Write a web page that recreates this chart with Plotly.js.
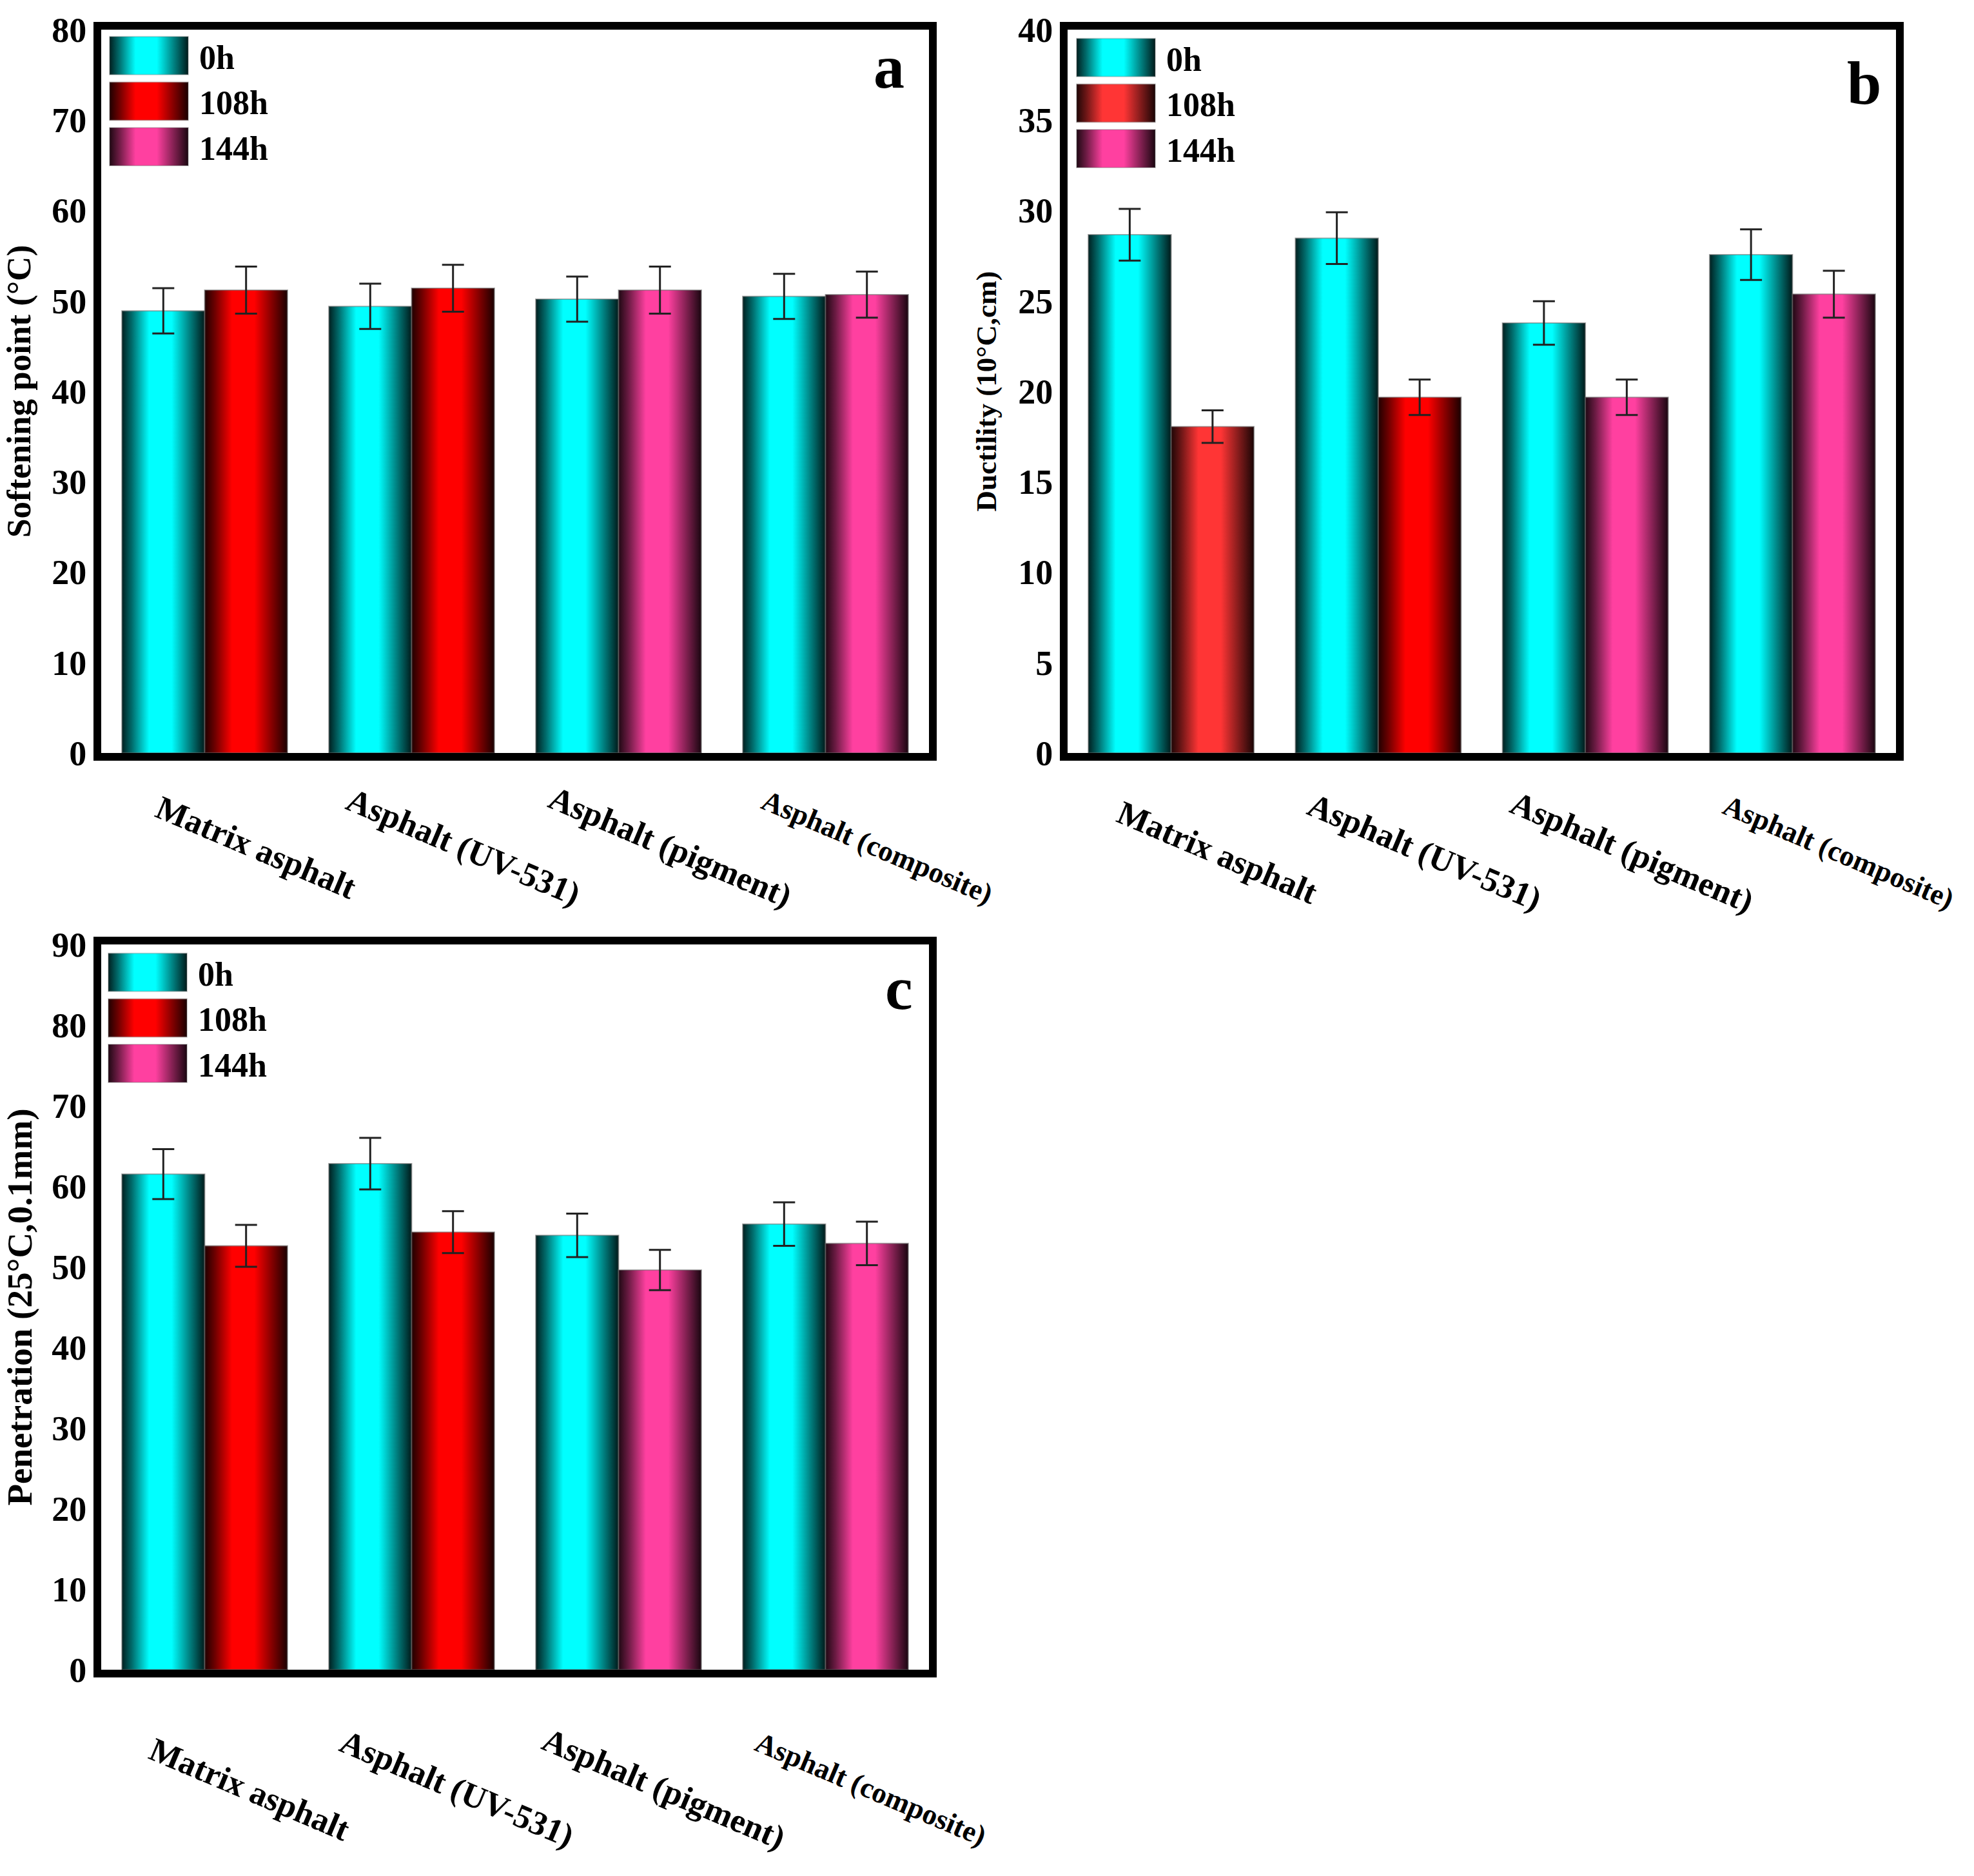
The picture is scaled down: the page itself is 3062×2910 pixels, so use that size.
<!DOCTYPE html>
<html><head><meta charset="utf-8">
<script src="https://cdn.plot.ly/plotly-3.0.1.min.js"></script>
<style>html,body{margin:0;padding:0;background:#fff}#chart{width:3062px;height:2910px}</style>
</head><body><div id="chart"></div>
<script>
// ---------------- data ----------------
const categories = ['Matrix asphalt', 'Asphalt (UV-531)', 'Asphalt (pigment)', 'Asphalt (composite)'];
const seriesNames = ['0h', '108h', '144h'];

// (a) Softening point (°C)
const soft0h      = [48.9, 49.4, 50.2, 50.5];
const soft0hErr   = [2.5, 2.5, 2.5, 2.5];
const soft108h    = [51.2, 51.4, null, null];
const soft108hErr = [2.6, 2.6, 0, 0];
const soft144h    = [null, null, 51.2, 50.7];
const soft144hErr = [0, 0, 2.6, 2.55];

// (b) Ductility (10°C, cm)
const duct0h      = [28.66, 28.47, 23.78, 27.56];
const duct0hErr   = [1.43, 1.43, 1.2, 1.4];
const duct108h    = [18.05, 19.67, null, null];
const duct108hErr = [0.9, 0.98, 0, 0];
const duct144h    = [null, null, 19.67, 25.37];
const duct144hErr = [0, 0, 0.98, 1.3];

// (c) Penetration (25°C, 0.1mm)
const pen0h       = [61.5, 62.8, 53.9, 55.3];
const pen0hErr    = [3.1, 3.2, 2.7, 2.7];
const pen108h     = [52.6, 54.3, null, null];
const pen108hErr  = [2.6, 2.6, 0, 0];
const pen144h     = [null, null, 49.6, 52.9];
const pen144hErr  = [0, 0, 2.5, 2.7];

const yTitles = ['Softening point (°C)', 'Ductility (10°C,cm)', 'Penetration (25°C,0.1mm)'];
const panelLetters = ['a', 'b', 'c'];

// ---------------- styles ----------------
const W = 3062, H = 2910;
const ML = 157, MR = 121, MT = 46, MB = 320;
const PW = W - ML - MR, PH = H - MT - MB;
const dx = px => (px - ML) / PW;
const dy = py => 1 - (py - MT) / PH;
const FONT = 'Liberation Serif, Times New Roman, serif';
const cCyan = '#00ffff', cRed = '#ff0000', cRedLight = '#ff3535', cPink = '#ff40a0';
const labelSizes = [52, 52, 52, 45];

function errOpts(arr) {
  return {type: 'data', array: arr, visible: true, color: '#222222', thickness: 3, width: 17};
}
function mkTrace(name, y, err, color, og, ax, lg) {
  return {
    type: 'bar', name: name, x: categories, y: y, error_y: errOpts(err),
    marker: {color: color, line: {color: 'rgba(110,110,110,0.55)', width: 2}},
    offsetgroup: og, xaxis: 'x' + ax, yaxis: 'y' + ax, legend: lg, showlegend: true,
    hoverinfo: 'skip'
  };
}

const data = [
  mkTrace(seriesNames[0], soft0h, soft0hErr, cCyan, '1', '', 'legend'),
  mkTrace(seriesNames[1], soft108h, soft108hErr, cRed, '2', '', 'legend'),
  mkTrace(seriesNames[2], soft144h, soft144hErr, cPink, '2', '', 'legend'),
  mkTrace(seriesNames[0], duct0h, duct0hErr, cCyan, '1', '2', 'legend2'),
  mkTrace(seriesNames[1], duct108h, duct108hErr, [cRedLight, cRed, cRed, cRed], '2', '2', 'legend2'),
  mkTrace(seriesNames[2], duct144h, duct144hErr, cPink, '2', '2', 'legend2'),
  mkTrace(seriesNames[0], pen0h, pen0hErr, cCyan, '1', '3', 'legend3'),
  mkTrace(seriesNames[1], pen108h, pen108hErr, cRed, '2', '3', 'legend3'),
  mkTrace(seriesNames[2], pen144h, pen144hErr, cPink, '2', '3', 'legend3')
];

const tickFont = {family: FONT, size: 54, color: '#000', weight: 'bold'};
function xAx(domain, anchor) {
  return {domain: domain, anchor: anchor, type: 'category', range: [-0.5, 3.5],
    showline: true, mirror: true, linewidth: 12, linecolor: '#000',
    showgrid: false, zeroline: false, ticks: '', showticklabels: false, fixedrange: true};
}
function yAx(domain, anchor, range, dtick, title, tsize) {
  return {domain: domain, anchor: anchor, range: range, dtick: dtick, tick0: 0,
    showline: true, mirror: true, linewidth: 12, linecolor: '#000',
    showgrid: false, zeroline: false, ticks: '', tickfont: tickFont,
    title: {text: title, font: {family: FONT, size: tsize, color: '#000', weight: 'bold'}},
    fixedrange: true};
}
function legendOpts(xpx, ypx) {
  return {x: dx(xpx), y: dy(ypx), xref: 'paper', yref: 'paper',
    xanchor: 'left', yanchor: 'top', bgcolor: 'rgba(0,0,0,0)', borderwidth: 0,
    itemwidth: 146, traceorder: 'normal', itemclick: false, itemdoubleclick: false,
    font: {family: FONT, size: 52, color: '#000', weight: 'bold'}};
}

const annotations = [];
const labelShift = [[80, 146], [72, 154], [70, 185]];
['', '2', '3'].forEach((ax, pi) => {
  categories.forEach((c, i) => {
    annotations.push({xref: 'x' + ax, yref: 'y' + ax + ' domain', x: c, y: 0,
      xanchor: 'center', yanchor: 'middle', xshift: labelShift[pi][0], yshift: -labelShift[pi][1],
      textangle: 23, showarrow: false, text: c,
      font: {family: FONT, size: labelSizes[i], color: '#000', weight: 'bold'}});
  });
});
const letterShift = [[-36, -57], [-21, -82], [-23, -68]];
['', '2', '3'].forEach((ax, pi) => {
  annotations.push({xref: 'x' + ax + ' domain', yref: 'y' + ax + ' domain', x: 1, y: 1,
    xanchor: 'right', yanchor: 'middle', xshift: letterShift[pi][0], yshift: letterShift[pi][1],
    showarrow: false, text: panelLetters[pi],
    font: {family: FONT, size: 96, color: '#000', weight: 'bold'}});
});

const layout = {
  width: W, height: H, paper_bgcolor: '#fff', plot_bgcolor: '#fff',
  margin: {l: ML, r: MR, t: MT, b: MB, autoexpand: false},
  barmode: 'group', bargap: 0.2, bargroupgap: 0,
  showlegend: true,
  xaxis: xAx([dx(157), dx(1441)], 'y'),
  yaxis: yAx([dy(1168), dy(46)], 'x', [0, 80], 10, yTitles[0], 53),
  xaxis2: xAx([dx(1656), dx(2941)], 'y2'),
  yaxis2: yAx([dy(1168), dy(46)], 'x2', [0, 40], 5, yTitles[1], 45),
  xaxis3: xAx([dx(157), dx(1441)], 'y3'),
  yaxis3: yAx([dy(2590), dy(1465)], 'x3', [0, 90], 10, yTitles[2], 55),
  legend: legendOpts(153, 46),
  legend2: legendOpts(1653, 49),
  legend3: legendOpts(151, 1468),
  annotations: annotations
};

function applyGradients(gd) {
  const NS = 'http://www.w3.org/2000/svg';
  const svg = gd.querySelector('svg.main-svg');
  let defs = svg.querySelector('defs');
  if (!defs) { defs = document.createElementNS(NS, 'defs'); svg.insertBefore(defs, svg.firstChild); }
  const made = {};
  const stops = [[0, 0.12], [0.12, 0.42], [0.33, 1], [0.6, 1], [0.82, 0.5], [1, 0.1]];
  function gradFor(fill) {
    const m = (fill || '').match(/rgba?\(([^)]+)\)/);
    if (!m) return null;
    const v = m[1].split(',').map(s => parseFloat(s));
    const id = 'bargrad_' + v[0] + '_' + v[1] + '_' + v[2];
    if (!made[id]) {
      const lg = document.createElementNS(NS, 'linearGradient');
      lg.setAttribute('id', id);
      lg.setAttribute('x1', '0'); lg.setAttribute('y1', '0');
      lg.setAttribute('x2', '1'); lg.setAttribute('y2', '0');
      stops.forEach(s => {
        const st = document.createElementNS(NS, 'stop');
        st.setAttribute('offset', s[0]);
        st.setAttribute('stop-color', 'rgb(' + Math.round(v[0] * s[1]) + ',' + Math.round(v[1] * s[1]) + ',' + Math.round(v[2] * s[1]) + ')');
        lg.appendChild(st);
      });
      defs.appendChild(lg);
      made[id] = true;
    }
    return 'url(#' + id + ')';
  }
  gd.querySelectorAll('.barlayer .point path').forEach(p => {
    const u = gradFor(p.style.fill); if (u) p.style.fill = u;
  });
  gd.querySelectorAll('.infolayer .legendpoints path').forEach(p => {
    p.setAttribute('d', 'M61,29.5H-61V-29.5H61Z');
    const u = gradFor(p.style.fill); if (u) p.style.fill = u;
    p.style.strokeWidth = '2px';
    p.style.stroke = 'rgba(110,110,110,0.55)';
  });
}

const gd = document.getElementById('chart');
Plotly.newPlot(gd, data, layout, {staticPlot: true, displayModeBar: false}).then(() => applyGradients(gd));
</script>
</body></html>
